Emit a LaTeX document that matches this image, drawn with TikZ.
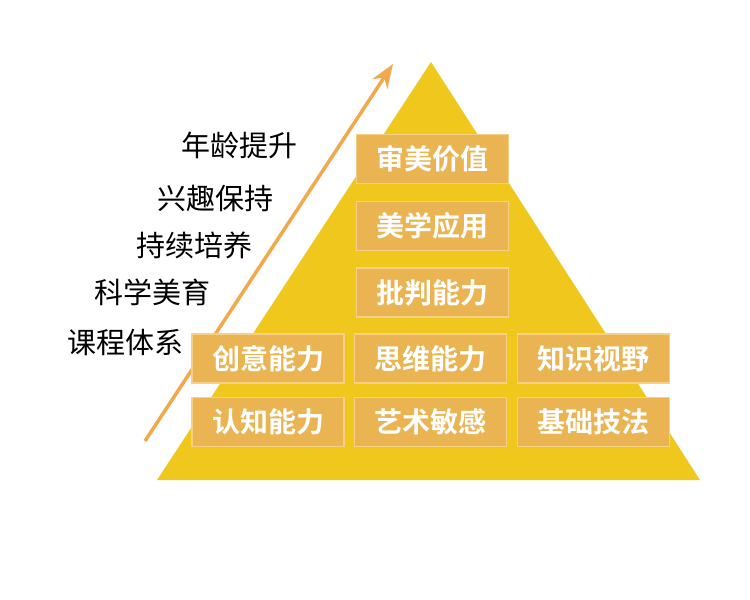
\documentclass[tikz,border=0pt]{standalone}
\usepackage{fontspec}
\usetikzlibrary{arrows.meta}
\newfontfamily\cjk{Noto Sans CJK SC}[BoldFont={Noto Sans CJK SC Bold}]
\newlength{\du}
\setlength{\du}{1pt}
\definecolor{pyramidcolor}{rgb}{0.941176, 0.784314, 0.113725}
\definecolor{boxcolor}{rgb}{0.913725, 0.705882, 0.317647}
\definecolor{boxlinecolor}{rgb}{0.964706, 0.815686, 0.521569}
\definecolor{arrowcolor}{rgb}{0.949020, 0.658824, 0.301961}
\tikzset{
  levelbox/.style={fill=boxcolor, draw=boxlinecolor, line width=1.5\du,
    minimum width=152\du, minimum height=49\du, inner sep=0pt,
    text=white, font=\cjk\bfseries\fontsize{28}{28}\selectfont},
  agelabel/.style={anchor=east, inner sep=0pt, text=black,
    font=\cjk\fontsize{29}{29}\selectfont}
}

\begin{document}
\begin{tikzpicture}
\pgftransformxscale{1.000000}
\pgftransformyscale{-1.000000}
\useasboundingbox (0\du,0\du) rectangle (750\du,600\du);
% pyramid
\fill[pyramidcolor] (157\du,480\du) -- (431\du,62\du) -- (700\du,480\du) -- cycle;
% growth arrow
\coordinate (arrowstart) at (145\du,441\du);
\coordinate (arrowend) at (393\du,64\du);
\draw[arrowcolor, line width=3.5\du, -{Stealth[length=24pt,width=18pt,inset=8pt]}] (arrowstart) -- (arrowend);
% labels along the arrow
\node[agelabel] (age) at (298\du,145\du){年龄提升};
\node[agelabel] (interest) at (274\du,198\du){兴趣保持};
\node[agelabel] (cultivate) at (253\du,245\du){持续培养};
\node[agelabel] (science) at (211\du,292\du){科学美育};
\node[agelabel] (course) at (184\du,343\du){课程体系};
% levels
\node[levelbox] (value) at (432.5\du,159\du){审美价值};
\node[levelbox] (apply) at (432.5\du,226\du){美学应用};
\node[levelbox] (critic) at (432.5\du,292.5\du){批判能力};
\node[levelbox] (create) at (268\du,358.5\du){创意能力};
\node[levelbox] (think) at (430.5\du,358.5\du){思维能力};
\node[levelbox] (vision) at (593.5\du,358.5\du){知识视野};
\node[levelbox] (cognition) at (268\du,422\du){认知能力};
\node[levelbox] (sense) at (430.5\du,422\du){艺术敏感};
\node[levelbox] (skill) at (593.5\du,422\du){基础技法};
\end{tikzpicture}
\end{document}
